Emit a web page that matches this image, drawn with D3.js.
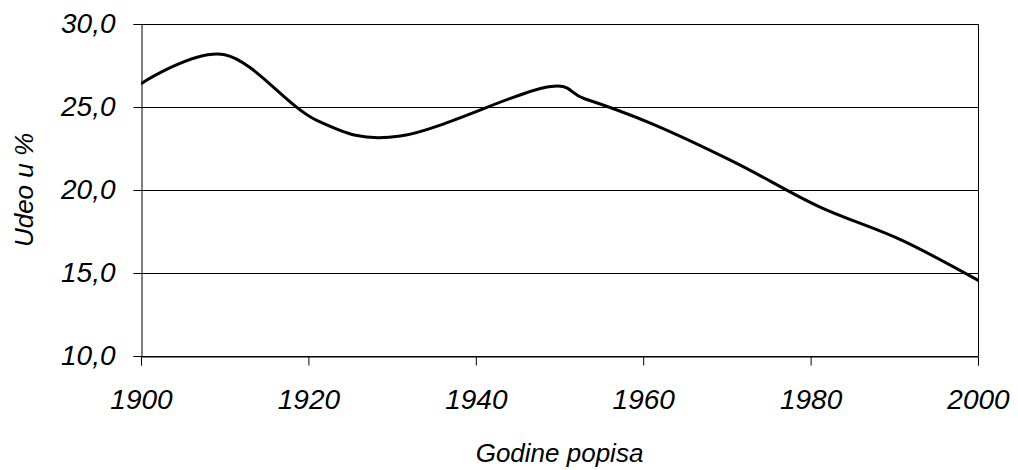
<!DOCTYPE html>
<html>
<head>
<meta charset="utf-8">
<script src="https://cdn.jsdelivr.net/npm/d3@7"></script>
<style>
  html, body { margin: 0; padding: 0; background: #fff; }
  svg { display: block; }
  text { font-family: "Liberation Sans", Arial, sans-serif; font-style: italic; fill: #000; }
</style>
</head>
<body>
<svg id="chart" width="1018" height="470"></svg>
<script>
// Census years and share (%)
const years  = [1900, 1910, 1921, 1931, 1948, 1953, 1961, 1971, 1981, 1991, 2002];
const shares = [26.4, 28.15, 24.2, 23.25, 26.15, 25.5, 24.0, 21.65, 19.0, 16.95, 14.0];

const xTicks = [1900, 1920, 1940, 1960, 1980, 2000];
const yTicks = [10, 15, 20, 25, 30];
const xTitle = "Godine popisa";
const yTitle = "Udeo u %";

const svg = d3.select("#chart");
const margin = { left: 141, right: 1018 - 978, top: 24, bottom: 470 - 356 };
const W = 1018, H = 470;

const x = d3.scaleLinear().domain([1900, 2000]).range([margin.left, W - margin.right]);
const y = d3.scaleLinear().domain([10, 30]).range([H - margin.bottom, margin.top]);

const fmt = v => d3.format(".1f")(v).replace(".", ",");

// gridlines
svg.append("g")
  .selectAll("line")
  .data(yTicks)
  .join("line")
  .attr("x1", x(1900)).attr("x2", x(2000))
  .attr("y1", d => Math.round(y(d)) + 0.5).attr("y2", d => Math.round(y(d)) + 0.5)
  .attr("stroke", "#000").attr("stroke-width", 1);

// right border
svg.append("line")
  .attr("x1", Math.round(x(2000)) + 0.5).attr("x2", Math.round(x(2000)) + 0.5)
  .attr("y1", y(30)).attr("y2", y(10))
  .attr("stroke", "#000");

// y axis
const yAxis = d3.axisLeft(y).tickValues(yTicks).tickFormat(fmt).tickSize(8).tickPadding(18);
const gy = svg.append("g").attr("transform", `translate(${Math.round(x(1900)) + 0.5},0)`).call(yAxis);
gy.select(".domain").attr("stroke", "#000");
gy.selectAll(".tick line").attr("stroke", "#000");
gy.selectAll("text").style("font-size", "28px").style("font-family", "'Liberation Sans', Arial, sans-serif").style("font-style", "italic");

// x axis
const xAxis = d3.axisBottom(x).tickValues(xTicks).tickFormat(d3.format("d")).tickSize(9).tickPadding(24);
const gx = svg.append("g").attr("transform", `translate(0,${Math.round(y(10)) + 0.5})`).call(xAxis);
gx.select(".domain").attr("stroke", "#000");
gx.selectAll(".tick line").attr("stroke", "#000");
gx.selectAll("text").style("font-size", "28px").style("font-family", "'Liberation Sans', Arial, sans-serif").style("font-style", "italic");

// clip
svg.append("clipPath").attr("id", "plotclip")
  .append("rect")
  .attr("x", x(1900)).attr("y", y(30) - 5)
  .attr("width", x(2000) - x(1900)).attr("height", y(10) - y(30) + 10);

const data = years.map((yr, i) => ({ yr, v: shares[i] }));
const line = d3.line()
  .x(d => x(d.yr))
  .y(d => y(d.v))
  .curve(d3.curveCardinal.tension(0));

svg.append("path")
  .datum(data)
  .attr("clip-path", "url(#plotclip)")
  .attr("d", line)
  .attr("fill", "none")
  .attr("stroke", "#000")
  .attr("stroke-width", 3)
  .attr("stroke-linejoin", "round");

// titles
svg.append("text")
  .attr("x", (x(1900) + x(2000)) / 2)
  .attr("y", 462)
  .attr("text-anchor", "middle")
  .style("font-size", "26px")
  .text(xTitle);

svg.append("text")
  .attr("transform", `translate(33,${(y(10) + y(30)) / 2}) rotate(-90)`)
  .attr("text-anchor", "middle")
  .style("font-size", "26px")
  .text(yTitle);
</script>
</body>
</html>
